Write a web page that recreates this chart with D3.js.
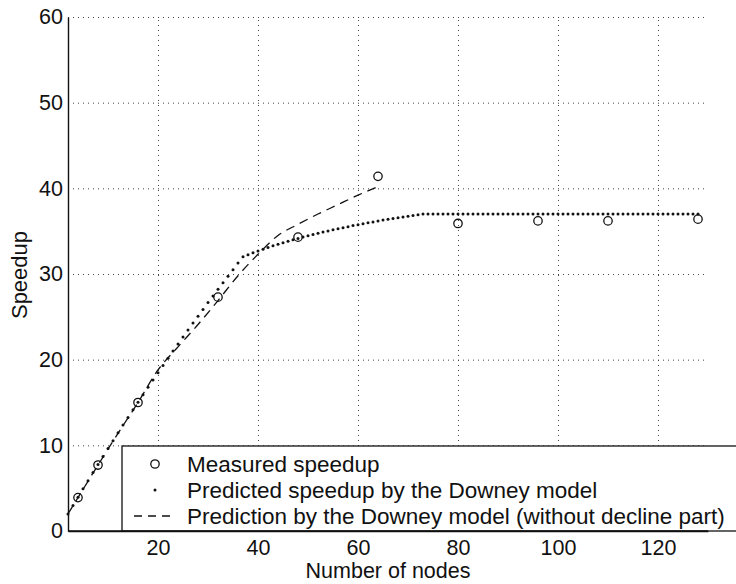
<!DOCTYPE html>
<html>
<head>
<meta charset="utf-8">
<script src="https://cdn.jsdelivr.net/npm/d3@7"></script>
<style>
  body { margin: 0; background: #fff; }
  svg { display: block; font-family: "Liberation Sans", Arial, Helvetica, sans-serif; }
  .grid line { stroke: #444; stroke-width: 1; stroke-dasharray: 1,4; }
  .grid path { display: none; }
</style>
</head>
<body>
<svg id="chart" width="736" height="584"></svg>
<script>
// measured runs (circles)
const nodesMeasured   = [4, 8, 16, 32, 48, 64, 80, 96, 110, 128];
const speedupMeasured = [3.9, 7.7, 15.0, 27.3, 34.3, 41.4, 35.9, 36.2, 36.2, 36.4];

// Downey model prediction, one dot per node count 2..128
const nodesPredicted = [
  2, 3, 4, 5, 6, 7, 8, 9, 10, 11, 12, 13, 14, 15, 16, 17, 18, 19, 20, 21,
  22, 23, 24, 25, 26, 27, 28, 29, 30, 31, 32, 33, 34, 35, 36, 37, 38, 39, 40, 41,
  42, 43, 44, 45, 46, 47, 48, 49, 50, 51, 52, 53, 54, 55, 56, 57, 58, 59, 60, 61,
  62, 63, 64, 65, 66, 67, 68, 69, 70, 71, 72, 73, 74, 75, 76, 77, 78, 79, 80, 81,
  82, 83, 84, 85, 86, 87, 88, 89, 90, 91, 92, 93, 94, 95, 96, 97, 98, 99, 100, 101,
  102, 103, 104, 105, 106, 107, 108, 109, 110, 111, 112, 113, 114, 115, 116, 117, 118, 119, 120, 121,
  122, 123, 124, 125, 126, 127, 128
];
const speedupPredicted = [
  1.99, 2.97, 3.95, 4.92, 5.87, 6.82, 7.77, 8.70, 9.63, 10.54, 11.46, 12.36, 13.26, 14.14, 15.03, 15.90, 16.77, 17.63, 18.48, 19.33,
  20.17, 21.00, 21.83, 22.65, 23.46, 24.27, 25.07, 25.87, 26.66, 27.44, 28.22, 28.99, 29.75, 30.51, 31.27, 32.02, 32.25, 32.47, 32.69, 32.89,
  33.09, 33.29, 33.47, 33.65, 33.82, 33.99, 34.15, 34.31, 34.46, 34.61, 34.75, 34.89, 35.03, 35.16, 35.29, 35.41, 35.53, 35.65, 35.76, 35.87,
  35.98, 36.08, 36.19, 36.29, 36.38, 36.48, 36.57, 36.66, 36.75, 36.83, 36.92, 37.0, 37.0, 37.0, 37.0, 37.0, 37.0, 37.0, 37.0, 37.0,
  37.0, 37.0, 37.0, 37.0, 37.0, 37.0, 37.0, 37.0, 37.0, 37.0, 37.0, 37.0, 37.0, 37.0, 37.0, 37.0, 37.0, 37.0, 37.0, 37.0,
  37.0, 37.0, 37.0, 37.0, 37.0, 37.0, 37.0, 37.0, 37.0, 37.0, 37.0, 37.0, 37.0, 37.0, 37.0, 37.0, 37.0, 37.0, 37.0, 37.0,
  37.0, 37.0, 37.0, 37.0, 37.0, 37.0, 37.0
];

// prediction without the decline part (dashed)
const nodesNoDecline   = [2, 4, 8, 12, 16, 20, 24, 28, 32, 36, 40, 44, 48, 52, 56, 60, 64];
const speedupNoDecline = [2.0, 3.9, 7.7, 11.4, 15.0, 18.8, 21.5, 24.1, 26.9, 29.8, 32.3, 34.5, 35.8, 37.0, 38.1, 39.2, 40.2];

const xTicks = [20, 40, 60, 80, 100, 120];
const yTicks = [0, 10, 20, 30, 40, 50, 60];
const legendLabels = [
  'Measured speedup',
  'Predicted speedup by the Downey model',
  'Prediction by the Downey model (without decline part)'
];

const svg = d3.select('#chart');
const plotL = 68, plotR = 708, plotT = 17, plotB = 531;

const x = d3.scaleLinear().domain([2, 130]).range([plotL, plotR]);
const y = d3.scaleLinear().domain([0, 60]).range([plotB, plotT]);

// dotted grid
svg.append('g')
  .attr('class', 'grid')
  .attr('transform', `translate(0,${plotB})`)
  .call(d3.axisBottom(x).tickValues(xTicks).tickSize(-(plotB - plotT)).tickFormat(''));
svg.append('g')
  .attr('class', 'grid')
  .attr('transform', `translate(${plotL},0)`)
  .call(d3.axisLeft(y).tickValues(yTicks.slice(1)).tickSize(-(plotR - plotL)).tickFormat(''));

// dashed curve
const dashedLine = d3.line()
  .x((d, i) => x(nodesNoDecline[i]))
  .y(d => y(d))
  .curve(d3.curveMonotoneX);
svg.append('path')
  .datum(speedupNoDecline)
  .attr('d', dashedLine)
  .attr('fill', 'none')
  .attr('stroke', '#111')
  .attr('stroke-width', 1.3)
  .attr('stroke-dasharray', '9,6');

// predicted dots
svg.append('g').selectAll('circle')
  .data(speedupPredicted)
  .join('circle')
  .attr('cx', (d, i) => x(nodesPredicted[i]))
  .attr('cy', d => y(d))
  .attr('r', 1.5)
  .attr('fill', '#111');

// measured circles
svg.append('g').selectAll('circle')
  .data(speedupMeasured)
  .join('circle')
  .attr('cx', (d, i) => x(nodesMeasured[i]))
  .attr('cy', d => y(d))
  .attr('r', 4.2)
  .attr('fill', 'none')
  .attr('stroke', '#111')
  .attr('stroke-width', 1.3);

// axes (left + bottom only)
const yAxis = svg.append('g')
  .attr('transform', `translate(${plotL},0)`)
  .call(d3.axisLeft(y).tickValues(yTicks).tickSize(0).tickPadding(5));
const xAxis = svg.append('g')
  .attr('transform', `translate(0,${plotB})`)
  .call(d3.axisBottom(x).tickValues(xTicks).tickSize(0).tickPadding(9));
[xAxis, yAxis].forEach(a => {
  a.select('.domain').attr('stroke', '#111').attr('stroke-width', 1.4);
  a.selectAll('text').attr('font-size', 21.5).attr('fill', '#111')
    .style('font-family', '"Liberation Sans", Arial, sans-serif');
});

svg.append('text')
  .attr('x', (plotL + plotR) / 2)
  .attr('y', 578)
  .attr('text-anchor', 'middle')
  .attr('font-size', 21.5)
  .attr('fill', '#111')
  .text('Number of nodes');

svg.append('text')
  .attr('transform', 'translate(27,275) rotate(-90)')
  .attr('text-anchor', 'middle')
  .attr('font-size', 22)
  .attr('fill', '#111')
  .text('Speedup');

// legend box, running off the right edge like the original
const lg = svg.append('g');
lg.append('rect')
  .attr('x', 122).attr('y', 446)
  .attr('width', 700).attr('height', plotB - 446)
  .attr('fill', '#fff')
  .attr('stroke', '#111')
  .attr('stroke-width', 1.3);

const rowY = [464, 490, 516];
lg.append('circle')
  .attr('cx', 155).attr('cy', rowY[0]).attr('r', 4.2)
  .attr('fill', 'none').attr('stroke', '#111').attr('stroke-width', 1.3);
lg.append('circle')
  .attr('cx', 155).attr('cy', rowY[1]).attr('r', 1.5)
  .attr('fill', '#111');
lg.append('line')
  .attr('x1', 134).attr('x2', 176)
  .attr('y1', rowY[2]).attr('y2', rowY[2])
  .attr('stroke', '#111').attr('stroke-width', 1.3)
  .attr('stroke-dasharray', '8,6');

lg.selectAll('text.lab')
  .data(legendLabels)
  .join('text')
  .attr('class', 'lab')
  .attr('x', 187)
  .attr('y', (d, i) => rowY[i] + 8)
  .attr('font-size', 22.5)
  .attr('fill', '#111')
  .text(d => d);

// re-draw bottom axis line over the legend box
svg.append('line')
  .attr('x1', plotL).attr('x2', plotR)
  .attr('y1', plotB).attr('y2', plotB)
  .attr('stroke', '#111').attr('stroke-width', 1.4);
</script>
</body>
</html>
